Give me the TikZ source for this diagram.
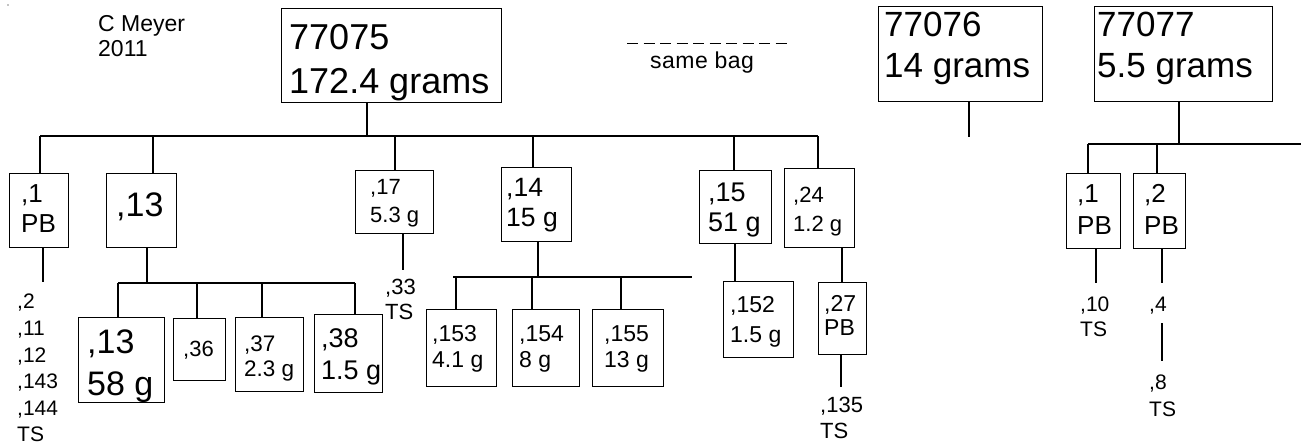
\documentclass[tikz,border=0pt]{standalone}
\usepackage{fontspec}
\setmainfont{Liberation Sans}
\begin{document}
\begin{tikzpicture}[x=1pt,y=-1pt,
  bx/.style={draw, line width=1.1pt, inner sep=0pt, anchor=north west},
  lbl/.style={inner sep=0pt, anchor=north west, align=left},
  txt/.style 2 args={font=\fontsize{#1}{#2}\selectfont},
  ln/.style={line width=1.1pt}]
\useasboundingbox (0,0) rectangle (1301,444);
\fill (8,5) circle (0.7);
% ---------- top ----------
\node[lbl, txt={23}{25}] (au) at (98,15.5) {C Meyer\\2011};
\node[bx, minimum width=220pt, minimum height=94pt] (m) at (281,8) {};
\node[lbl, txt={36}{44}] (t75) at (289,24) {77075\\172.4 grams};
\coordinate (dl) at (627,44);
\coordinate (dr) at (789,44);
\draw[line width=1pt, dash pattern=on 11pt off 5.5pt] (dl) -- (dr);
\node[inner sep=0pt, anchor=base west, font=\fontsize{23}{26}\selectfont\addfontfeatures{LetterSpace=2}] (sb) at (650,68) {same bag};
\node[bx, minimum width=164pt, minimum height=95pt] (n76) at (878,6) {};
\node[lbl, txt={35}{41}] (t76) at (884,12) {77076\\14 grams};
\node[bx, minimum width=178pt, minimum height=95pt] (n77) at (1094,6) {};
\node[lbl, txt={35}{41}] (t77) at (1097,12) {77077\\5.5 grams};
% ---------- main bus ----------
\coordinate (mb) at (367,136);
\coordinate (b1) at (40,136);
\coordinate (b2) at (153,136);
\coordinate (b3) at (395,136);
\coordinate (b4) at (533,136);
\coordinate (b5) at (734,136);
\coordinate (b6) at (818,136);
\draw[ln] (mb |- m.south) -- (mb);
\draw[ln] (b1) -- (b6);
% ---------- children of 77075 ----------
\node[bx, minimum width=59pt, minimum height=74pt] (c1) at (9,173) {};
\node[lbl, txt={26}{30}] (tc1) at (21,184.4) {,1\\PB};
\node[bx, minimum width=70pt, minimum height=74pt] (c13) at (106,173) {};
\node[lbl, txt={34}{40}] (tc13) at (116,192.7) {,13};
\node[bx, minimum width=78pt, minimum height=63pt] (c17) at (355,170) {};
\node[lbl, txt={22}{28}] (tc17) at (370,179) {,17\\5.3 g};
\node[bx, minimum width=70pt, minimum height=74pt] (c14) at (501,167) {};
\node[lbl, txt={26.5}{30}] (tc14) at (506,178) {,14\\15 g};
\node[bx, minimum width=72pt, minimum height=73pt] (c15) at (699,170) {};
\node[lbl, txt={27}{30}] (tc15) at (708,182.7) {,15\\51 g};
\node[bx, minimum width=70pt, minimum height=79pt] (c24) at (784,168) {};
\node[lbl, txt={22}{29}] (tc24) at (793,187) {,24\\1.2 g};
\draw[ln] (b1) -- (b1 |- c1.north);
\draw[ln] (b2) -- (b2 |- c13.north);
\draw[ln] (b3) -- (b3 |- c17.north);
\draw[ln] (b4) -- (b4 |- c14.north);
\draw[ln] (b5) -- (b5 |- c15.north);
\draw[ln] (b6) -- (b6 |- c24.north);
% ,1 list
\coordinate (l1) at (43,282);
\draw[ln] (l1 |- c1.south) -- (l1);
\node[lbl, txt={21}{26.6}] (L1) at (17,294) {,2\\,11\\,12\\,143\\,144\\TS};
% ,13 subtree
\coordinate (k) at (147,283);
\coordinate (k1) at (118,283);
\coordinate (k2) at (197,283);
\coordinate (k3) at (262,283);
\coordinate (k4) at (355,283);
\draw[ln] (k |- c13.south) -- (k);
\draw[ln] (k1) -- (k4);
\node[bx, minimum width=86pt, minimum height=85pt] (c13b) at (78,317) {};
\node[lbl, txt={34}{42}] (tc13b) at (87,329.7) {,13\\58 g};
\node[bx, minimum width=52pt, minimum height=62pt] (c36) at (173,318) {};
\node[lbl, txt={22}{26}] (tc36) at (183,341) {,36};
\node[bx, minimum width=68pt, minimum height=74pt] (c37) at (235,317) {};
\node[lbl, txt={22.5}{25}] (tc37) at (244,336) {,37\\2.3 g};
\node[bx, minimum width=68pt, minimum height=78pt] (c38) at (314,314) {};
\node[lbl, txt={27}{32}] (tc38) at (321,328.7) {,38\\1.5 g};
\draw[ln] (k1) -- (k1 |- c13b.north);
\draw[ln] (k2) -- (k2 |- c36.north);
\draw[ln] (k3) -- (k3 |- c37.north);
\draw[ln] (k4) -- (k4 |- c38.north);
% ,17 -> ,33
\coordinate (s1) at (403,270);
\draw[ln] (s1 |- c17.south) -- (s1);
\node[lbl, txt={22}{25}] (T33) at (385,279) {,33\\TS};
% ,14 subtree
\coordinate (f) at (538,277);
\coordinate (f1) at (453,277);
\coordinate (f9) at (692,277);
\coordinate (g1) at (456,277);
\coordinate (g2) at (532,277);
\coordinate (g3) at (621,277);
\draw[ln] (f |- c14.south) -- (f);
\draw[ln] (f1) -- (f9);
\node[bx, minimum width=70pt, minimum height=77pt] (c153) at (426,309) {};
\node[lbl, txt={23}{26}] (tc153) at (432,325.5) {,153\\4.1 g};
\node[bx, minimum width=67pt, minimum height=77pt] (c154) at (512,309) {};
\node[lbl, txt={23}{26}] (tc154) at (519,325.5) {,154\\8 g};
\node[bx, minimum width=71pt, minimum height=77pt] (c155) at (592,309) {};
\node[lbl, txt={23}{26}] (tc155) at (604,325.5) {,155\\13 g};
\draw[ln] (g1) -- (g1 |- c153.north);
\draw[ln] (g2) -- (g2 |- c154.north);
\draw[ln] (g3) -- (g3 |- c155.north);
% ,15 -> ,152
\node[bx, minimum width=70pt, minimum height=76pt] (c152) at (723,281) {};
\node[lbl, txt={23}{30}] (tc152) at (730,296.5) {,152\\1.5 g};
\coordinate (p) at (735,0);
\draw[ln] (p |- c15.south) -- (p |- c152.north);
% ,24 -> ,27 -> ,135
\node[bx, minimum width=48pt, minimum height=72pt] (c27) at (818,282) {};
\node[lbl, txt={23}{24}] (tc27) at (824,295.5) {,27\\PB};
\coordinate (q) at (842,0);
\draw[ln] (q |- c24.south) -- (q |- c27.north);
\coordinate (q2) at (841,387);
\draw[ln] (q2 |- c27.south) -- (q2);
\node[lbl, txt={22}{26}] (T135) at (820,397) {,135\\TS};
% ---------- 77076 ----------
\coordinate (e) at (969,137);
\draw[ln] (e |- n76.south) -- (e);
% ---------- 77077 ----------
\coordinate (h) at (1179,144);
\coordinate (h1) at (1088,144);
\coordinate (h2) at (1157,144);
\coordinate (hr) at (1301,144);
\draw[ln] (h |- n77.south) -- (h);
\draw[ln] (h1) -- (hr);
\node[bx, minimum width=54pt, minimum height=75pt] (r1) at (1066,173) {};
\node[lbl, txt={26}{32}] (tr1) at (1077,184.4) {,1\\PB};
\node[bx, minimum width=52pt, minimum height=75pt] (r2) at (1133,173) {};
\node[lbl, txt={26}{32}] (tr2) at (1144,184.4) {,2\\PB};
\draw[ln] (h1) -- (h1 |- r1.north);
\draw[ln] (h2) -- (h2 |- r2.north);
\coordinate (u1) at (1096,283);
\coordinate (u2) at (1162,283);
\draw[ln] (u1 |- r1.south) -- (u1);
\draw[ln] (u2 |- r2.south) -- (u2);
\node[lbl, txt={21}{25}] (T10) at (1080,297) {,10\\TS};
\node[lbl, txt={21}{25}] (T4) at (1149,297) {,4};
\coordinate (v1) at (1162,323);
\coordinate (v2) at (1162,361);
\draw[ln] (v1) -- (v2);
\node[lbl, txt={21}{27}] (T8) at (1149,375) {,8\\TS};
\end{tikzpicture}
\end{document}
